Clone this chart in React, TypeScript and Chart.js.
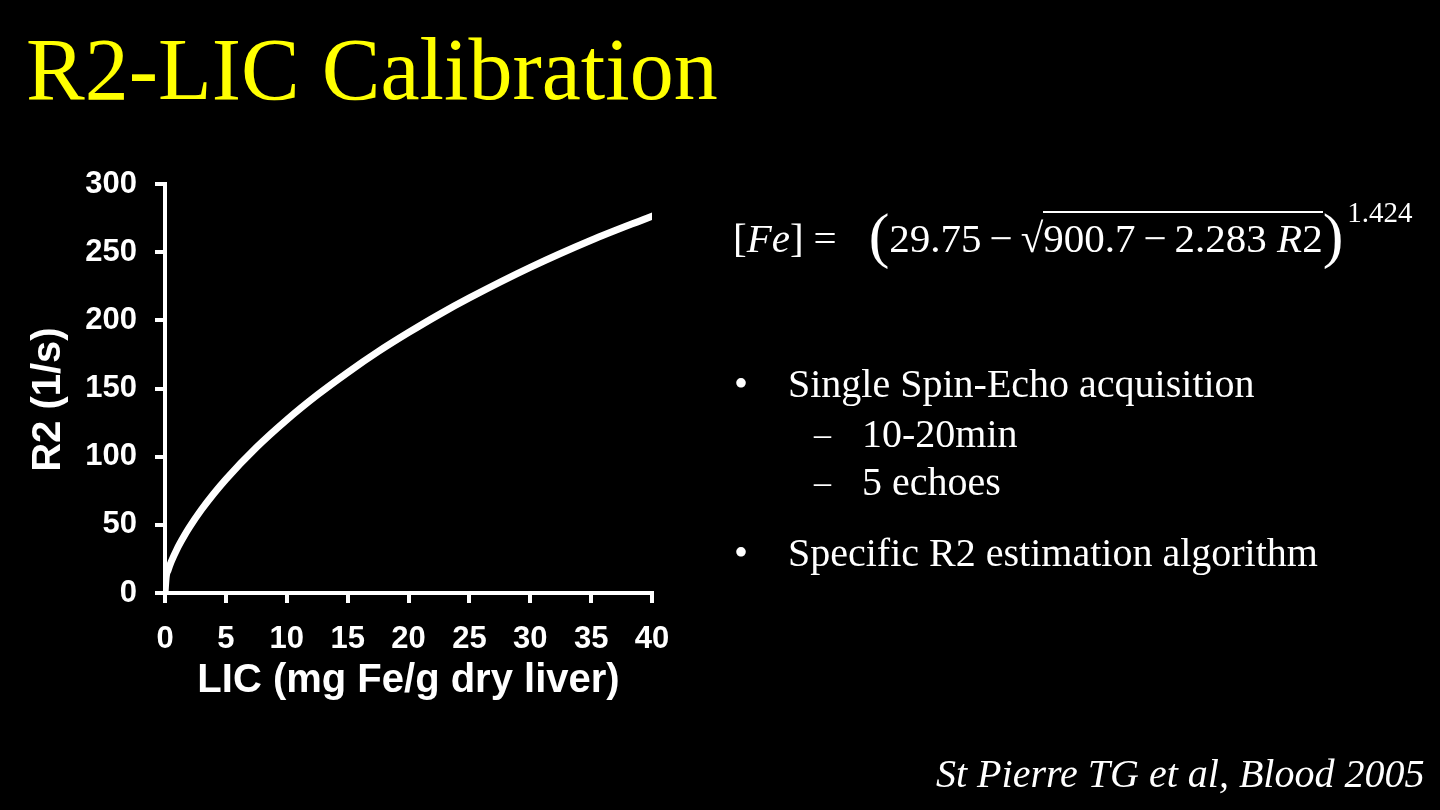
import React, { useEffect, useRef } from "react";
import { Chart, registerables } from "chart.js";

Chart.register(...registerables);

// LIC (mg Fe/g dry liver)
const licValues = [0, 0.1, 0.25, 0.5, 1, 1.5, 2, 3, 4, 5, 7.5, 10, 12.5, 15, 17.5, 20, 22.5, 25, 30, 35, 40];
// R2 (1/s)
const r2Values = [0, 12, 16.6, 22.7, 32.5, 40.7, 48.1, 61.2, 72.8, 83.4, 106.7, 127, 145.2, 161.7, 177, 191, 204.2, 216.4, 238.8, 258.7, 276.4];

const xTitle = "LIC (mg Fe/g dry liver)";
const yTitle = "R2 (1/s)  ";
const slideTitle = "R2-LIC Calibration";
const bullets = ["Single Spin-Echo acquisition", "Specific R2 estimation algorithm"];
const subBullets = ["10-20min", "5 echoes"];
const citation = "St Pierre TG et al, Blood 2005";

const SERIF = '"Liberation Serif", "Times New Roman", serif';
const SANS = '"Liberation Sans", Arial, sans-serif';

function Txt(props: { x: number; baseline: number; size: number; color?: string; italic?: boolean; children: any; family?: string }) {
  const k = 0.8375;
  return (
    <div
      style={{
        position: "absolute",
        left: props.x,
        top: props.baseline - props.size * k,
        fontSize: props.size,
        lineHeight: `${props.size}px`,
        fontFamily: props.family || SERIF,
        fontStyle: props.italic ? "italic" : "normal",
        color: props.color || "#fff",
        whiteSpace: "nowrap",
      }}
    >
      {props.children}
    </div>
  );
}

export default function App() {
  const ref = useRef<HTMLCanvasElement | null>(null);

  useEffect(() => {
    if (!ref.current) return;
    const pts = licValues.map((x, i) => ({ x, y: r2Values[i] }));
    const chart = new Chart(ref.current, {
      type: "line",
      data: {
        datasets: [
          {
            data: pts,
            borderColor: "#ffffff",
            borderWidth: 7,
            pointRadius: 0,
            cubicInterpolationMode: "monotone",
            borderCapStyle: "round",
            borderJoinStyle: "round",
            fill: false,
          },
        ],
      },
      options: {
        responsive: false,
        animation: false,
        events: [],
        layout: { padding: { left: 0, top: 184, right: 1440 - 652, bottom: 810 - 713 } },
        plugins: { legend: { display: false }, tooltip: { enabled: false } },
        scales: {
          x: {
            type: "linear",
            min: 0,
            max: 40,
            afterFit: (s: any) => {
              s.height = 120;
            },
            ticks: {
              stepSize: 5,
              color: "#ffffff",
              font: { family: SANS, weight: "bold", size: 31 },
              padding: 18,
              maxRotation: 0,
            },
            grid: {
              display: true,
              drawOnChartArea: false,
              drawTicks: true,
              tickLength: 10,
              color: "#ffffff",
              lineWidth: 4,
            },
            border: { display: true, color: "#ffffff", width: 4 },
            title: {
              display: true,
              text: xTitle,
              color: "#ffffff",
              font: { family: SANS, weight: "bold", size: 40 },
              padding: { top: 0, bottom: 8 },
            },
          },
          y: {
            type: "linear",
            min: 0,
            max: 300,
            afterFit: (s: any) => {
              s.width = 165;
            },
            ticks: {
              stepSize: 50,
              color: "#ffffff",
              font: { family: SANS, weight: "bold", size: 31 },
              padding: 18,
            },
            grid: {
              display: true,
              drawOnChartArea: false,
              drawTicks: true,
              tickLength: 10,
              color: "#ffffff",
              lineWidth: 4,
            },
            border: { display: true, color: "#ffffff", width: 4 },
            title: {
              display: true,
              text: yTitle,
              color: "#ffffff",
              font: { family: SANS, weight: "bold", size: 40 },
              padding: { top: 25, bottom: 0 },
            },
          },
        },
      },
    } as any);
    return () => chart.destroy();
  }, []);

  return (
    <div
      style={{
        position: "fixed",
        left: 0,
        top: 0,
        width: 1440,
        height: 810,
        background: "#000",
        overflow: "hidden",
      }}
    >
      <canvas ref={ref} width={1440} height={810} style={{ position: "absolute", left: 0, top: 0, width: 1440, height: 810 }} />
      <Txt x={26} baseline={100} size={88} color="#ffff00">
        {slideTitle}
      </Txt>

      {/* equation */}
      <div
        style={{
          position: "absolute",
          left: 733,
          top: 245 - 41 * 0.8375,
          fontSize: 41,
          lineHeight: "41px",
          fontFamily: SERIF,
          color: "#fff",
          whiteSpace: "nowrap",
        }}
      >
        <span>[</span>
        <span style={{ fontStyle: "italic" }}>Fe</span>
        <span>]</span>
        <span style={{ margin: "0 6px 0 10px" }}>=</span>
        <span style={{ marginLeft: 26, fontSize: 62, fontWeight: 300, position: "relative", top: 4 }}>(</span>
        <span>29.75</span>
        <span style={{ margin: "0 8px" }}>−</span>
        <span>√</span>
        <span style={{ borderTop: "2px solid #fff", paddingTop: 2 }}>
          900.7<span style={{ margin: "0 8px" }}>−</span>2.283 <span style={{ fontStyle: "italic" }}>R</span>2
        </span>
        <span style={{ fontSize: 62, fontWeight: 300, position: "relative", top: 4 }}>)</span>
        <span style={{ fontSize: 29, position: "relative", top: -30, marginLeft: 4 }}>1.424</span>
      </div>

      {/* bullets */}
      <Txt x={734} baseline={397} size={40}>•</Txt>
      <Txt x={788} baseline={397} size={40}>{bullets[0]}</Txt>
      <Txt x={814} baseline={445} size={34}>–</Txt>
      <Txt x={862} baseline={447} size={40}>{subBullets[0]}</Txt>
      <Txt x={814} baseline={493} size={34}>–</Txt>
      <Txt x={862} baseline={495} size={40}>{subBullets[1]}</Txt>
      <Txt x={734} baseline={566} size={40}>•</Txt>
      <Txt x={788} baseline={566} size={40}>{bullets[1]}</Txt>

      <Txt x={936} baseline={787} size={40} italic>
        {citation}
      </Txt>
    </div>
  );
}
